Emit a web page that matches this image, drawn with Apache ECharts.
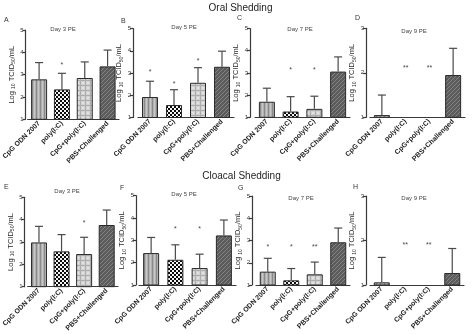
<!DOCTYPE html>
<html>
<head>
<meta charset="utf-8">
<script src="https://cdn.jsdelivr.net/npm/echarts@6/dist/echarts.min.js"></script>
<style>
  html, body { margin: 0; padding: 0; background: #fff; }
  #chart { width: 474px; height: 334px; }
</style>
</head>
<body>
<div id="chart"></div>
<script>
// Treatment groups (x categories)
const categories = ['CpG ODN 2007', 'poly(I:C)', 'CpG+poly(I:C)', 'PBS+Challenged'];

// Oral shedding, log10 TCID50/mL: means, SD (upper bar only), significance marks
const oralDay3Mean = [2.79, 2.34, 2.85, 3.37];
const oralDay3SD   = [0.75, 0.72, 0.72, 0.73];
const oralDay3Sig  = ['', '*', '', ''];
const oralDay3SigAt = [null, 3.42, null, null];

const oralDay5Mean = [1.92, 1.56, 2.56, 3.28];
const oralDay5SD   = [0.71, 0.69, 0.68, 0.70];
const oralDay5Sig  = ['*', '*', '*', ''];
const oralDay5SigAt = [3.05, 2.5, 3.55, null];

const oralDay7Mean = [1.70, 1.26, 1.38, 3.06];
const oralDay7SD   = [0.61, 0.67, 0.57, 0.66];
const oralDay7Sig  = ['', '*', '*', ''];
const oralDay7SigAt = [null, 3.15, 3.15, null];

const oralDay9Mean = [1.05, 1.0, 1.0, 1.95];
const oralDay9SD   = [0.45, 0, 0, 0.60];
const oralDay9Sig  = ['', '**', '**', ''];
const oralDay9SigAt = [null, 2.1, 2.1, null];

// Cloacal shedding, log10 TCID50/mL
const cloacalDay3Mean = [2.98, 2.58, 2.46, 3.76];
const cloacalDay3SD   = [0.72, 0.75, 0.75, 0.67];
const cloacalDay3Sig  = ['', '', '*', ''];
const cloacalDay3SigAt = [null, null, 3.85, null];

const cloacalDay5Mean = [2.43, 2.13, 1.76, 3.22];
const cloacalDay5SD   = [0.70, 0.67, 0.62, 0.69];
const cloacalDay5Sig  = ['', '*', '*', ''];
const cloacalDay5SigAt = [null, 3.5, 3.5, null];

const cloacalDay7Mean = [1.60, 1.21, 1.48, 2.92];
const cloacalDay7SD   = [0.60, 0.53, 0.55, 0.64];
const cloacalDay7Sig  = ['*', '*', '**', ''];
const cloacalDay7SigAt = [2.72, 2.72, 2.72, null];

const cloacalDay9Mean = [1.06, 1.0, 1.0, 1.27];
const cloacalDay9SD   = [0.56, 0, 0, 0.55];
const cloacalDay9Sig  = ['', '**', '**', ''];
const cloacalDay9SigAt = [null, 1.9, 1.9, null];

const FONT = '"Liberation Sans", Arial, sans-serif';

// ---- fill patterns for the four groups ----
function pattern(size, draw) {
  const c = document.createElement('canvas');
  c.width = size; c.height = size;
  draw(c.getContext('2d'), size);
  return { image: c, repeat: 'repeat' };
}
const fills = [
  // vertical stripes, mid grey
  pattern(4, (g, s) => {
    g.fillStyle = '#b0b0b0'; g.fillRect(0, 0, s, s);
    g.fillStyle = '#8a8a8a'; g.fillRect(0, 0, 1, s);
    g.fillStyle = '#c8c8c8'; g.fillRect(2, 0, 1, s);
  }),
  // checkerboard
  pattern(4, (g, s) => {
    g.fillStyle = '#f4f4f4'; g.fillRect(0, 0, s, s);
    g.fillStyle = '#0a0a0a'; g.fillRect(0, 0, 2, 2); g.fillRect(2, 2, 2, 2);
  }),
  // light plaid
  pattern(5, (g, s) => {
    g.fillStyle = '#d2d2d2'; g.fillRect(0, 0, s, s);
    g.fillStyle = '#adadad'; g.fillRect(0, 0, 1, s); g.fillRect(0, 0, s, 1);
    g.fillStyle = '#e2e2e2'; g.fillRect(2, 2, 2, 2);
  }),
  // dark diagonal hatch
  pattern(4, (g, s) => {
    g.fillStyle = '#5c5c5c'; g.fillRect(0, 0, s, s);
    g.strokeStyle = '#828282'; g.lineWidth = 1;
    g.beginPath();
    g.moveTo(-1, 1); g.lineTo(1, -1);
    g.moveTo(-1, 5); g.lineTo(5, -1);
    g.moveTo(3, 5); g.lineTo(5, 3);
    g.stroke();
  })
];

// ---- panel layout ----
const panels = [
  { mean: oralDay3Mean, sd: oralDay3SD, sig: oralDay3Sig, sigAt: oralDay3SigAt, max: 5, day: 'Day 3 PE', letter: 'A',
    axisX: 20, left: 22, right: 119, top: 30, bottom: 119.3, dayX: 63, dayY: 29, letX: 4, letY: 21 },
  { mean: oralDay5Mean, sd: oralDay5SD, sig: oralDay5Sig, sigAt: oralDay5SigAt, max: 5, day: 'Day 5 PE', letter: 'B',
    axisX: 133, left: 138, right: 234, top: 28.5, bottom: 117.5, dayX: 184, dayY: 27, letX: 121, letY: 22 },
  { mean: oralDay7Mean, sd: oralDay7SD, sig: oralDay7Sig, sigAt: oralDay7SigAt, max: 5, day: 'Day 7 PE', letter: 'C',
    axisX: 250, left: 255, right: 350, top: 28.5, bottom: 117.3, dayX: 300, dayY: 29.5, letX: 237, letY: 19 },
  { mean: oralDay9Mean, sd: oralDay9SD, sig: oralDay9Sig, sigAt: oralDay9SigAt, max: 3, day: 'Day 9 PE', letter: 'D',
    axisX: 366, left: 370, right: 465, top: 28.3, bottom: 117.3, dayX: 414, dayY: 31, letX: 355, letY: 19 },
  { mean: cloacalDay3Mean, sd: cloacalDay3SD, sig: cloacalDay3Sig, sigAt: cloacalDay3SigAt, max: 5, day: 'Day 3 PE', letter: 'E',
    axisX: 18, left: 21, right: 118, top: 197.3, bottom: 287, dayX: 67, dayY: 191, letX: 4, letY: 188 },
  { mean: cloacalDay5Mean, sd: cloacalDay5SD, sig: cloacalDay5Sig, sigAt: cloacalDay5SigAt, max: 5, day: 'Day 5 PE', letter: 'F',
    axisX: 136, left: 139, right: 236, top: 195.7, bottom: 285, dayX: 184, dayY: 194, letX: 120, letY: 189 },
  { mean: cloacalDay7Mean, sd: cloacalDay7SD, sig: cloacalDay7Sig, sigAt: cloacalDay7SigAt, max: 5, day: 'Day 7 PE', letter: 'G',
    axisX: 252, left: 256, right: 350, top: 196, bottom: 285, dayX: 301, dayY: 198, letX: 238, letY: 189 },
  { mean: cloacalDay9Mean, sd: cloacalDay9SD, sig: cloacalDay9Sig, sigAt: cloacalDay9SigAt, max: 3, day: 'Day 9 PE', letter: 'H',
    axisX: 366, left: 370, right: 464, top: 196, bottom: 285, dayX: 414, dayY: 198, letX: 353, letY: 188 }
];

const grid = [], xAxis = [], yAxis = [], series = [], graphic = [];

panels.forEach((p, i) => {
  grid.push({ left: p.left, top: p.top, width: p.right - p.left, height: p.bottom - p.top });

  xAxis.push({
    gridIndex: i, type: 'category', data: categories,
    axisLine: { show: true, lineStyle: { color: '#3a3a3a', width: 1.2 } },
    axisTick: { show: false },
    axisLabel: { interval: 0, rotate: 45, fontSize: 7, fontWeight: 'bold', color: '#1e1e1e', margin: 3, fontFamily: FONT }
  });

  yAxis.push({
    gridIndex: i, type: 'value', min: 1, max: p.max, interval: 1, offset: p.left - p.axisX,
    axisLine: { show: true, lineStyle: { color: '#3a3a3a', width: 1.2 } },
    axisTick: { show: true, length: 3, lineStyle: { color: '#3a3a3a', width: 1.2 } },
    axisLabel: { fontSize: 6, color: '#333', margin: 2, fontFamily: FONT },
    splitLine: { show: false },
    name: '{n|Log }{s|10}{n| TCID}{s|50}{n|/mL}',
    nameLocation: 'middle', nameGap: 7, nameRotate: 90,
    nameTextStyle: {
      fontFamily: FONT, color: '#2a2a2a',
      rich: {
        n: { fontSize: 7.5, lineHeight: 9, verticalAlign: 'top', fontFamily: FONT, color: '#2a2a2a' },
        s: { fontSize: 5, lineHeight: 5, verticalAlign: 'bottom', fontFamily: FONT, color: '#2a2a2a' }
      }
    }
  });

  // bars
  series.push({
    type: 'bar', xAxisIndex: i, yAxisIndex: i, barWidth: 16, clip: true,
    data: p.mean.map((v, k) => ({
      value: v,
      itemStyle: { color: fills[k], borderColor: '#2a2a2a', borderWidth: 1 }
    })),
    z: 2
  });

  // upper error bars
  series.push({
    type: 'custom', xAxisIndex: i, yAxisIndex: i, z: 3,
    data: p.mean.map((v, k) => [k, v, v + p.sd[k]]),
    renderItem: (params, api) => {
      const lo = api.value(1), hi = api.value(2);
      if (!(hi > lo)) return null;
      const a = api.coord([api.value(0), lo]);
      const b = api.coord([api.value(0), hi]);
      const st = { stroke: '#4a4a4a', lineWidth: 1.2 };
      return {
        type: 'group',
        children: [
          { type: 'line', shape: { x1: a[0], y1: a[1], x2: b[0], y2: b[1] }, style: st },
          { type: 'line', shape: { x1: b[0] - 4, y1: b[1], x2: b[0] + 4, y2: b[1] }, style: st }
        ]
      };
    }
  });

  // significance marks
  const sigData = [];
  p.sig.forEach((t, k) => { if (t) sigData.push([k, p.sigAt[k], t]); });
  series.push({
    type: 'custom', xAxisIndex: i, yAxisIndex: i, z: 4,
    data: sigData.map(d => [d[0], d[1]]),
    renderItem: (params, api) => {
      const pt = api.coord([api.value(0), api.value(1)]);
      return {
        type: 'text',
        style: {
          text: sigData[params.dataIndex][2], x: pt[0], y: pt[1],
          align: 'center', verticalAlign: 'middle',
          fontSize: 7, fill: '#444', fontFamily: FONT
        }
      };
    }
  });

  graphic.push({
    type: 'text', left: p.letX, top: p.letY - 4,
    style: { text: p.letter, fontSize: 7, fill: '#333', fontFamily: FONT }
  });
  graphic.push({
    type: 'text', x: p.dayX, y: p.dayY,
    style: { text: p.day, fontSize: 6, fill: '#444', fontFamily: FONT, align: 'center', verticalAlign: 'middle' }
  });
});

graphic.push({
  type: 'text', x: 240.5, y: 8,
  style: { text: 'Oral Shedding', fontSize: 10, fill: '#1e1e1e', fontFamily: FONT, align: 'center', verticalAlign: 'middle' }
});
graphic.push({
  type: 'text', x: 241.5, y: 176,
  style: { text: 'Cloacal Shedding', fontSize: 10, fill: '#1e1e1e', fontFamily: FONT, align: 'center', verticalAlign: 'middle' }
});

const chart = echarts.init(document.getElementById('chart'), null, { renderer: 'canvas' });
chart.setOption({
  animation: false,
  backgroundColor: '#fff',
  grid, xAxis, yAxis, series, graphic
});
</script>
</body>
</html>
